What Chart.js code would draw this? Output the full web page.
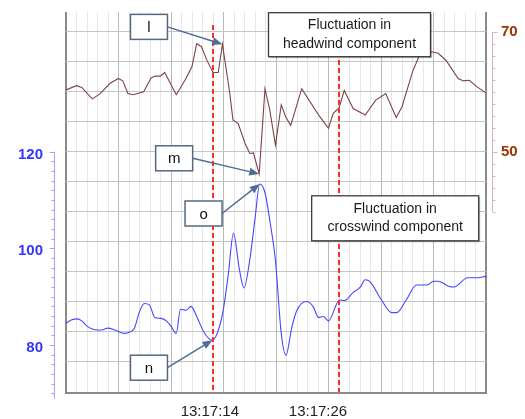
<!DOCTYPE html>
<html>
<head>
<meta charset="utf-8">
<script src="https://cdn.jsdelivr.net/npm/chart.js@4"></script>
<style>
  html, body { margin: 0; padding: 0; background: #fff; }
  #wrap { width: 525px; height: 419px; position: relative; }
</style>
</head>
<body>
<div id="wrap"><canvas id="chart"></canvas></div>
<script>
// time in seconds after 13:17:00
const headwindTime = [0, 1.0, 1.5, 2.5, 3.2, 4.2, 5.0, 5.4, 5.9, 6.4, 7.4, 8.1, 8.5, 9.0, 9.4, 10.5, 11.4, 12.0, 12.45, 12.9,
  13.4, 14.0, 14.5, 14.9, 15.6, 15.9, 16.4, 17.05, 17.5, 17.85, 18.4, 18.95, 19.4, 19.95, 20.5, 20.95, 21.4, 22.45, 23.25, 24.1,
  25.0, 25.45, 26.0, 26.5, 27.35, 28.5, 29.5, 30.45, 31.45, 32.0, 33.0, 33.55, 33.9, 34.7, 35.45, 36.2, 37.35, 37.85, 38.4, 39.15, 40];
const headwindSpeed = [60.3, 61.0, 60.7, 58.8, 59.6, 61.4, 62.2, 61.8, 59.7, 59.5, 60.0, 62.3, 62.6, 62.6, 63.2, 59.5, 62.1, 64.2, 68.0, 67.5,
  65.3, 63.2, 63.2, 67.9, 59.7, 55.3, 54.7, 51.4, 49.7, 49.8, 46.3, 60.5, 57.0, 51.1, 57.8, 55.7, 54.4, 60.5, 58.3, 56.0,
  53.9, 56.4, 57.3, 60.2, 57.2, 56.1, 58.6, 59.7, 55.7, 57.5, 63.3, 65.6, 66.7, 66.7, 66.4, 65.2, 62.2, 61.8, 61.9, 60.8, 59.8];

const crosswindTime = [0, 0.55, 1.05, 1.5, 2.0, 3.0, 3.4, 4.0, 4.65, 5.55, 5.95, 6.5, 7.0, 7.45, 7.95, 8.45, 9.05, 9.55, 10.0, 10.5,
  10.9, 11.45, 11.9, 12.45, 13.15, 13.95, 14.4, 14.95, 15.45, 15.95, 16.5, 16.95, 17.5, 18.0, 18.45, 18.95, 19.45, 19.95, 20.5, 20.95,
  21.5, 21.95, 22.9, 23.55, 24.05, 24.5, 25.0, 26.05, 26.55, 27.35, 28.0, 28.5, 28.95, 30.05, 31.0, 31.5, 32.4, 33.4, 34.4, 35.0,
  35.45, 36.5, 36.95, 38.25, 38.95, 40];
const crosswindSpeed = [84.5, 85.2, 85.4, 85.0, 83.9, 83.1, 83.1, 83.5, 83.1, 82.4, 82.6, 83.4, 86.9, 88.6, 88.3, 85.7, 85.5, 85.0, 83.9, 82.4,
  87.4, 87.2, 88.0, 85.9, 82.6, 81.0, 82.4, 86.9, 94.5, 103.1, 95.8, 91.8, 97.6, 106.1, 113.3, 111.5, 105.2, 97.4, 82.4, 77.9,
  83.6, 87.0, 89.0, 87.9, 85.7, 85.9, 85.0, 89.3, 89.2, 90.9, 91.9, 93.5, 93.1, 89.3, 86.7, 86.7, 89.3, 92.4, 92.4, 93.2,
  93.2, 92.1, 92.0, 93.9, 93.9, 94.2];

const markerTimes = [14, 26];
const timeTickValues = [13.7, 24];
const timeTickLabels = ['13:17:14', '13:17:26'];
const crossTicks = [80, 100, 120];
const headTicks = [50, 70];

// callouts: box centre in (time, headwind-axis units), arrow to a data point
const callouts = [
  { text: 'l', x: 7.9, y: 70.8, series: 'head', index: 23 },
  { text: 'm', x: 10.3, y: 48.9, series: 'head', index: 30 },
  { text: 'o', x: 13.1, y: 39.7, series: 'cross', index: 34 },
  { text: 'n', x: 7.9, y: 14.0, series: 'cross', index: 25 }
];
const notes = [
  { lines: ['Fluctuation in', 'headwind component'], x: 27.0, y: 69.5, w: 162, h: 44 },
  { lines: ['Fluctuation in', 'crosswind component'], x: 31.35, y: 38.9, w: 167, h: 45 }
];

Chart.defaults.font.family = "'Liberation Sans', Arial, sans-serif";

function arrow(ctx, x0, y0, x1, y1) {
  const a = Math.atan2(y1 - y0, x1 - x0), hl = 10, hw = 4;
  const bx = x1 - hl * Math.cos(a), by = y1 - hl * Math.sin(a);
  ctx.beginPath(); ctx.moveTo(x0, y0); ctx.lineTo(bx, by); ctx.stroke();
  ctx.beginPath();
  ctx.moveTo(x1, y1);
  ctx.lineTo(bx + hw * Math.sin(a), by - hw * Math.cos(a));
  ctx.lineTo(bx - hw * Math.sin(a), by + hw * Math.cos(a));
  ctx.closePath(); ctx.fill();
}

// fixed axis sizes, no extra label padding
const fitTo = (w, h) => s => {
  if (w !== null) s.width = w;
  if (h !== null) s.height = h;
  s.paddingTop = s.paddingBottom = s.paddingLeft = s.paddingRight = 0;
};

const overlay = {
  id: 'overlay',
  afterDraw(chart) {
    const ctx = chart.ctx, area = chart.chartArea;
    const x = chart.scales.x, yL = chart.scales.yL, yR = chart.scales.yR;
    ctx.save();

    // crosswind axis (left, only 70..120)
    const lx = Math.round(area.left - 12) + 0.5;
    ctx.strokeStyle = '#a3a3ff'; ctx.lineWidth = 1;
    ctx.beginPath(); ctx.moveTo(lx, yL.getPixelForValue(120)); ctx.lineTo(lx, area.bottom + 6); ctx.stroke();
    for (let v = 70; v <= 120; v += 2) {
      const py = Math.round(yL.getPixelForValue(v)) + 0.5;
      const len = crossTicks.includes(v) ? 5 : 3;
      ctx.beginPath(); ctx.moveTo(lx - len, py); ctx.lineTo(lx, py); ctx.stroke();
    }

    // headwind axis (right, only 40..70)
    const rx = Math.round(area.right + 5.5) + 0.5;
    ctx.strokeStyle = '#d3b9b3';
    ctx.beginPath(); ctx.moveTo(rx, yR.getPixelForValue(70)); ctx.lineTo(rx, yR.getPixelForValue(40)); ctx.stroke();
    for (let v = 40; v <= 70; v += 2) {
      const py = Math.round(yR.getPixelForValue(v)) + 0.5;
      const len = headTicks.includes(v) ? 5 : 3;
      ctx.beginPath(); ctx.moveTo(rx, py); ctx.lineTo(rx + len, py); ctx.stroke();
    }

    // callouts
    const meta = { head: chart.getDatasetMeta(markerTimes.length), cross: chart.getDatasetMeta(markerTimes.length + 1) };
    ctx.font = "15px 'Liberation Sans', Arial, sans-serif";
    ctx.textAlign = 'center'; ctx.textBaseline = 'middle';
    callouts.forEach(c => {
      const cx = x.getPixelForValue(c.x), cy = yR.getPixelForValue(c.y);
      const w = 37, h = 25;
      const pt = meta[c.series].data[c.index];
      ctx.strokeStyle = '#4d6d94'; ctx.fillStyle = '#4d6d94'; ctx.lineWidth = 1.5;
      arrow(ctx, cx + w / 2, cy, pt.x, pt.y);
      ctx.fillStyle = '#fff'; ctx.strokeStyle = '#56687e'; ctx.lineWidth = 1.5;
      ctx.fillRect(cx - w / 2, cy - h / 2, w, h);
      ctx.strokeRect(cx - w / 2, cy - h / 2, w, h);
      ctx.fillStyle = '#111';
      ctx.fillText(c.text, cx, cy + 1);
    });

    // text notes
    ctx.font = "14px 'Liberation Sans', Arial, sans-serif";
    notes.forEach(n => {
      const cx = x.getPixelForValue(n.x), cy = yR.getPixelForValue(n.y);
      ctx.fillStyle = 'rgba(0,0,0,0.25)';
      ctx.fillRect(cx - n.w / 2 + 1.5, cy - n.h / 2 + 1.5, n.w, n.h);
      ctx.fillStyle = '#fff'; ctx.strokeStyle = '#3c3c3c'; ctx.lineWidth = 1.3;
      ctx.fillRect(cx - n.w / 2, cy - n.h / 2, n.w, n.h);
      ctx.strokeRect(cx - n.w / 2, cy - n.h / 2, n.w, n.h);
      ctx.fillStyle = '#1a1a1a';
      ctx.fillText(n.lines[0], cx, cy - 9.5);
      ctx.fillText(n.lines[1], cx, cy + 9);
    });
    ctx.restore();
  }
};

const gridTimes = Array.from({ length: 41 }, (_, i) => i);
const gridHead = [15, 20, 25, 30, 35, 40, 45, 50, 55, 60, 65, 70];

new Chart(document.getElementById('chart'), {
  type: 'line',
  data: {
    datasets: [
      ...markerTimes.map(t => ({
        data: [{ x: t, y: t === markerTimes[0] ? 71.1 : 73.3 }, { x: t, y: 9.9 }],
        yAxisID: 'yR', borderColor: '#ff2b2b', borderWidth: 2, borderDash: [5, 3],
        pointRadius: 0, order: 0
      })),
      {
        label: 'Headwind',
        data: headwindTime.map((t, i) => ({ x: t, y: headwindSpeed[i] })),
        yAxisID: 'yR', borderColor: '#7d4343', borderWidth: 1.1,
        pointRadius: 0, tension: 0, order: 1
      },
      {
        label: 'Crosswind',
        data: crosswindTime.map((t, i) => ({ x: t, y: crosswindSpeed[i] })),
        yAxisID: 'yL', borderColor: '#4545ff', borderWidth: 1.1,
        pointRadius: 0, cubicInterpolationMode: 'monotone', order: 1
      }
    ]
  },
  options: {
    responsive: true,
    maintainAspectRatio: false,
    animation: false,
    layout: { padding: { top: 12, left: 0, right: 0, bottom: 0 } },
    plugins: { legend: { display: false }, tooltip: { enabled: false } },
    scales: {
      x: {
        type: 'linear', min: 0, max: 40, position: 'bottom',
        afterBuildTicks: s => { s.ticks = gridTimes.map(v => ({ value: v })); },
        ticks: { display: false },
        grid: {
          drawTicks: false,
          color: c => (c.tick.value === 0 || c.tick.value === 40) ? '#8a8a8a' : (c.tick.value % 5 === 0 ? '#b9b9b9' : '#e6e6e6'),
          lineWidth: c => (c.tick.value === 0 || c.tick.value === 40) ? 2 : 1
        },
        border: { color: '#8a8a8a', width: 2 },
        afterFit: fitTo(null, 0)
      },
      xt: {
        type: 'linear', min: 0, max: 40, position: 'bottom',
        afterBuildTicks: s => { s.ticks = timeTickValues.map(v => ({ value: v })); },
        ticks: {
          callback: (v, i) => timeTickLabels[i],
          autoSkip: false, maxRotation: 0, color: '#222', font: { size: 15 }, padding: 10
        },
        grid: { display: false, drawTicks: false },
        border: { display: false },
        afterFit: fitTo(null, 26.5)
      },
      yL: {
        type: 'linear', position: 'left', min: 70.17, max: 148.9,
        afterBuildTicks: s => { s.ticks = crossTicks.map(v => ({ value: v })); },
        ticks: { color: '#3535ff', font: { size: 15, weight: 'bold' }, padding: 23, autoSkip: false, labelOffset: 3 },
        grid: { display: false, drawTicks: false },
        border: { display: false },
        afterFit: fitTo(66, null)
      },
      yR: {
        type: 'linear', position: 'right', min: 9.87, max: 73.28,
        afterBuildTicks: s => { s.ticks = gridHead.map(v => ({ value: v })); },
        ticks: {
          callback: v => headTicks.includes(v) ? String(v) : '',
          color: '#993300', font: { size: 15, weight: 'bold' }, padding: 15, autoSkip: false
        },
        grid: { color: '#c4c4c4', drawTicks: false },
        border: { display: false },
        afterFit: fitTo(39, null)
      }
    }
  },
  plugins: [overlay]
});
</script>
</body>
</html>
